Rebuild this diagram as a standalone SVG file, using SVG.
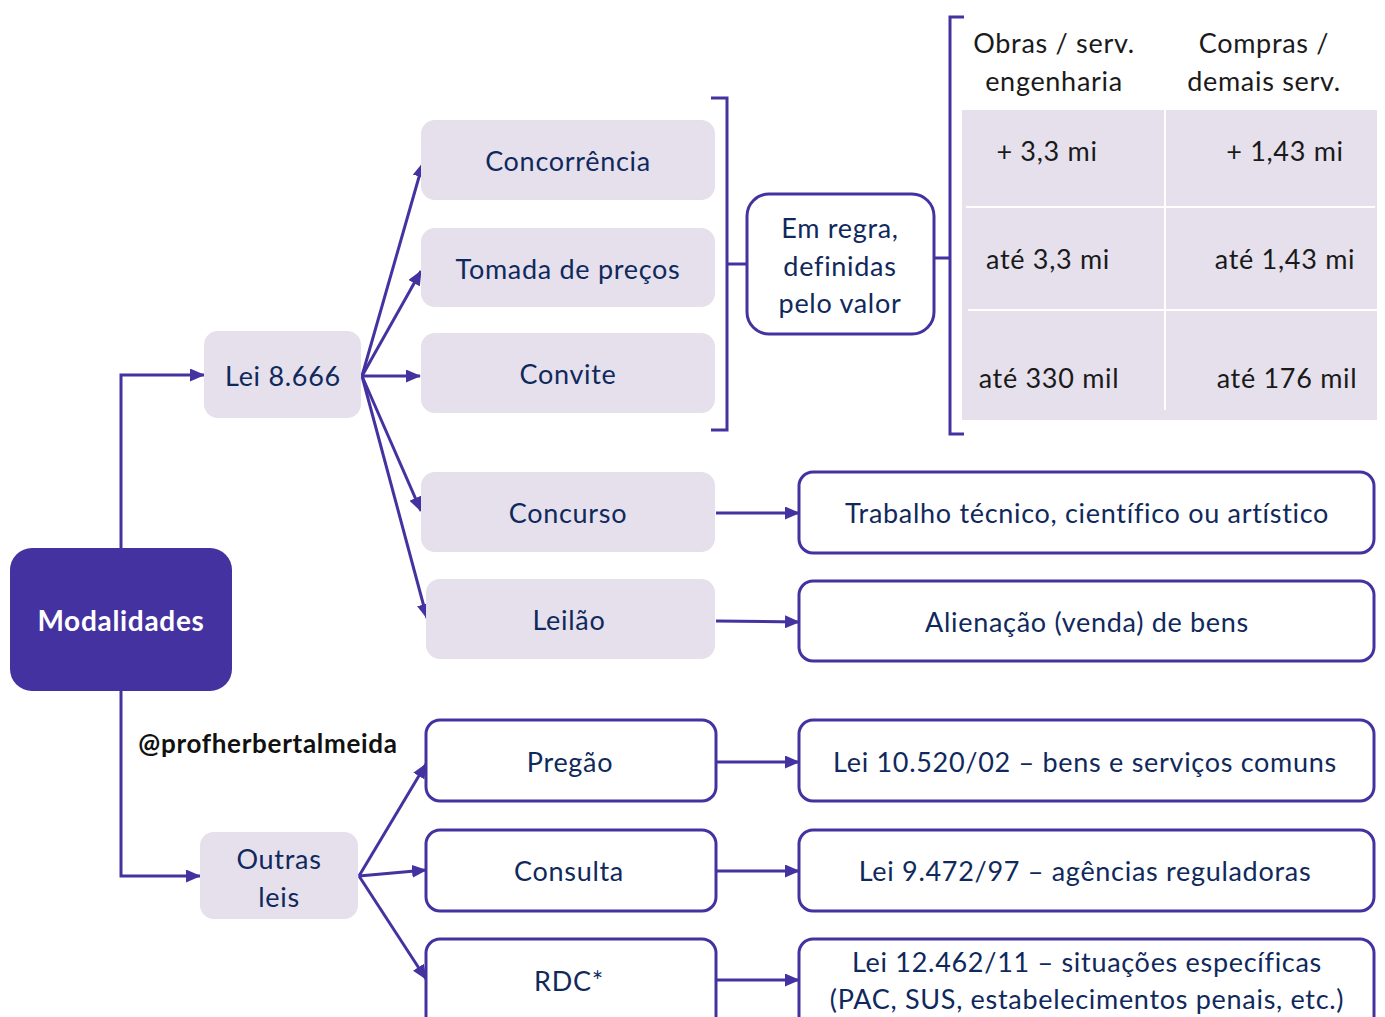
<svg xmlns="http://www.w3.org/2000/svg" width="1385" height="1017" viewBox="0 0 1385 1017">
  <defs>
    <marker id="arrow" markerUnits="userSpaceOnUse" markerWidth="15" markerHeight="13" refX="14" refY="6.5" orient="auto">
      <path d="M0,0 L15,6.5 L0,13 z" fill="#4332A0"/>
    </marker>
    <style>
      text { font-family: Lato, "Open Sans", "Liberation Sans", sans-serif; text-anchor: middle; dominant-baseline: central; letter-spacing: 0.7px; }
      .lbl { font-size: 27px; fill: #10295C; }
      .tbl { font-size: 27px; fill: #1A1A1A; }
      .soft { fill: #E5E0EC; }
      .outl { fill: #FFFFFF; stroke: #4332A0; stroke-width: 3; }
      .conn { fill: none; stroke: #4332A0; stroke-width: 3; }
      .arr { marker-end: url(#arrow); }
      .brk { fill: none; stroke: #4332A0; stroke-width: 3; }
      .grid { stroke: #FFFFFF; stroke-width: 2; }
    </style>
  </defs>
  <rect width="1385" height="1017" fill="#FFFFFF"/>

  <!-- connectors -->
  <g id="connectors">
    <path class="conn arr" d="M121,548 V375 H204"/>
    <path class="conn arr" d="M121,691 V876 H200"/>
    <path class="conn arr" d="M362,376 L423,163"/>
    <path class="conn arr" d="M362,376 L421,271"/>
    <path class="conn arr" d="M362,376 L420,376"/>
    <path class="conn arr" d="M362,376 L421,511"/>
    <path class="conn arr" d="M362,376 L427,618"/>
    <path class="conn arr" d="M359,876 L426,764"/>
    <path class="conn arr" d="M359,876 L426,870"/>
    <path class="conn arr" d="M359,876 L426,979"/>
    <path class="conn arr" d="M716,513 H799"/>
    <path class="conn arr" d="M716,621 L799,622"/>
    <path class="conn arr" d="M716,762 H799"/>
    <path class="conn arr" d="M716,871 H799"/>
    <path class="conn arr" d="M716,980 H799"/>
    <!-- brackets -->
    <path class="brk" d="M711,98 H727 V430 H711 M727,264 H747"/>
    <path class="brk" d="M964,17 H950 V434 H964 M934,258 H950"/>
  </g>

  <g id="modalidades">
    <rect x="10" y="548" width="222" height="143" rx="22" fill="#4332A0"/>
    <text x="121" y="620" font-size="28" font-weight="bold" fill="#FFFFFF">Modalidades</text>
  </g>

  <g id="lei8666">
    <rect class="soft" x="204" y="331" width="157" height="87" rx="14"/>
    <text class="lbl" x="283" y="375">Lei 8.666</text>
  </g>

  <g id="outras-leis">
    <rect class="soft" x="200" y="832" width="158" height="87" rx="14"/>
    <text class="lbl" x="279" y="858">Outras</text>
    <text class="lbl" x="279" y="896">leis</text>
  </g>

  <g id="concorrencia">
    <rect class="soft" x="421" y="120" width="294" height="80" rx="14"/>
    <text class="lbl" x="568" y="160">Concorrência</text>
  </g>
  <g id="tomada">
    <rect class="soft" x="421" y="228" width="294" height="79" rx="14"/>
    <text class="lbl" x="568" y="268">Tomada de preços</text>
  </g>
  <g id="convite">
    <rect class="soft" x="421" y="333" width="294" height="80" rx="14"/>
    <text class="lbl" x="568" y="373">Convite</text>
  </g>
  <g id="concurso">
    <rect class="soft" x="421" y="472" width="294" height="80" rx="14"/>
    <text class="lbl" x="568" y="512">Concurso</text>
  </g>
  <g id="leilao">
    <rect class="soft" x="426" y="579" width="289" height="80" rx="14"/>
    <text class="lbl" x="569" y="619">Leilão</text>
  </g>

  <g id="em-regra">
    <rect class="outl" x="747" y="194" width="187" height="140" rx="22"/>
    <text class="lbl" x="840" y="227">Em regra,</text>
    <text class="lbl" x="840" y="265">definidas</text>
    <text class="lbl" x="840" y="302">pelo valor</text>
  </g>

  <g id="tabela-valores">
    <rect class="soft" x="962" y="110" width="415" height="310"/>
    <line class="grid" x1="1165" y1="110" x2="1165" y2="410"/>
    <line class="grid" x1="966" y1="207" x2="1375" y2="207"/>
    <line class="grid" x1="968" y1="310" x2="1377" y2="310"/>
    <text class="tbl" x="1054" y="42">Obras / serv.</text>
    <text class="tbl" x="1054" y="80">engenharia</text>
    <text class="tbl" x="1264" y="42">Compras /</text>
    <text class="tbl" x="1264" y="80">demais serv.</text>
    <text class="tbl" x="1047" y="150">+ 3,3 mi</text>
    <text class="tbl" x="1285" y="150">+ 1,43 mi</text>
    <text class="tbl" x="1048" y="258">até 3,3 mi</text>
    <text class="tbl" x="1285" y="258">até 1,43 mi</text>
    <text class="tbl" x="1049" y="377">até 330 mil</text>
    <text class="tbl" x="1287" y="377">até 176 mil</text>
  </g>

  <g id="trabalho">
    <rect class="outl" x="799" y="472" width="575" height="81" rx="14"/>
    <text class="lbl" x="1087" y="512">Trabalho técnico, científico ou artístico</text>
  </g>
  <g id="alienacao">
    <rect class="outl" x="799" y="581" width="575" height="80" rx="14"/>
    <text class="lbl" x="1087" y="621">Alienação (venda) de bens</text>
  </g>

  <g id="pregao">
    <rect class="outl" x="426" y="720" width="290" height="81" rx="14"/>
    <text class="lbl" x="570" y="761">Pregão</text>
  </g>
  <g id="consulta">
    <rect class="outl" x="426" y="830" width="290" height="81" rx="14"/>
    <text class="lbl" x="569" y="870">Consulta</text>
  </g>
  <g id="rdc">
    <rect class="outl" x="426" y="939" width="290" height="100" rx="14"/>
    <text class="lbl" x="569" y="980">RDC*</text>
  </g>

  <g id="lei10520">
    <rect class="outl" x="799" y="720" width="575" height="81" rx="14"/>
    <text class="lbl" x="1085" y="761">Lei 10.520/02 – bens e serviços comuns</text>
  </g>
  <g id="lei9472">
    <rect class="outl" x="799" y="830" width="575" height="81" rx="14"/>
    <text class="lbl" x="1085" y="870">Lei 9.472/97 – agências reguladoras</text>
  </g>
  <g id="lei12462">
    <rect class="outl" x="799" y="939" width="575" height="100" rx="14"/>
    <text class="lbl" x="1087" y="961">Lei 12.462/11 – situações específicas</text>
    <text class="lbl" x="1087" y="998">(PAC, SUS, estabelecimentos penais, etc.)</text>
  </g>

  <text x="268" y="743" font-size="26" font-weight="bold" fill="#111111">@profherbertalmeida</text>
</svg>
